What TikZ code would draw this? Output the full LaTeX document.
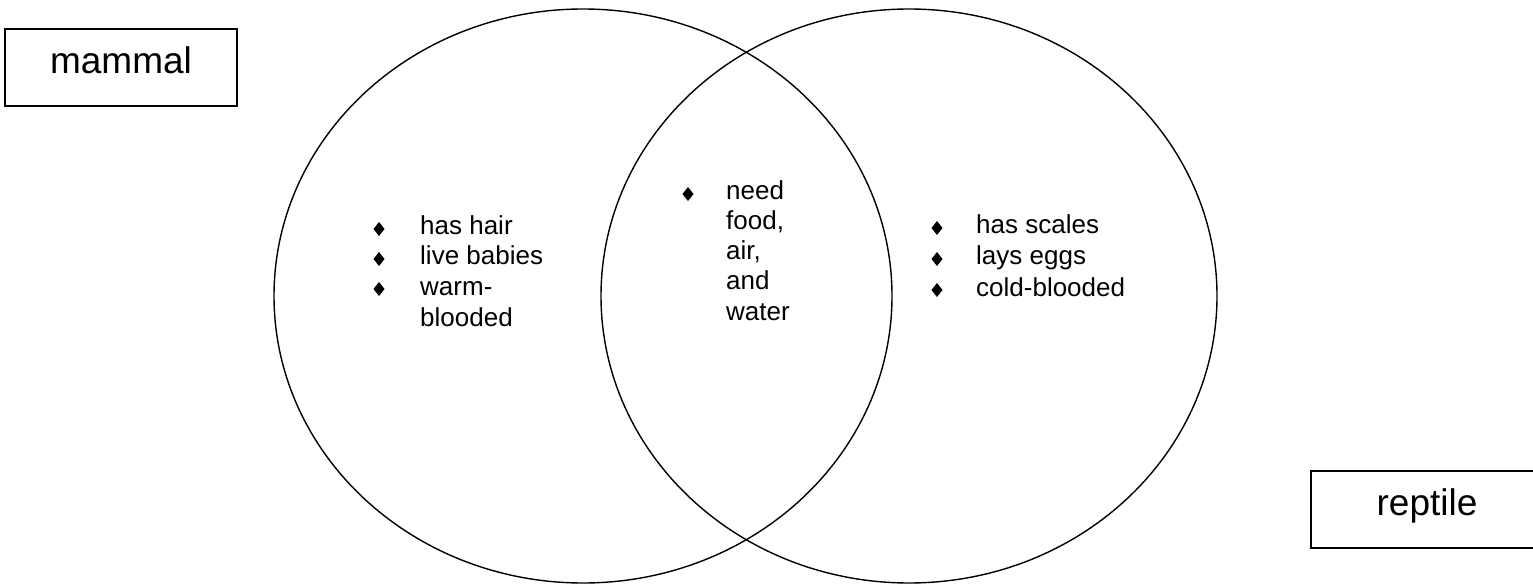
\documentclass[tikz,border=0pt]{standalone}
\usepackage{fontspec}
\setmainfont{Liberation Sans}
\begin{document}
\begin{tikzpicture}[x=1pt,y=-1pt,
  ring/.style={line width=1.4pt},
  tagbox/.style={draw, line width=1.4pt, inner sep=0pt,
    minimum width=232pt, minimum height=77pt,
    font=\fontsize{37}{44}\selectfont},
  item/.style={anchor=base west, inner sep=0pt,
    font=\fontsize{26}{30}\selectfont},
  dot/.style={fill=black}]
\useasboundingbox (0,0) rectangle (1533,585);
\clip (0,0) rectangle (1533,585);
\fill[white] (0,0) rectangle (1533,585);

% the two overlapping sets
\draw[ring] (583,296) ellipse [x radius=309pt, y radius=287pt];
\draw[ring] (909,296) ellipse [x radius=308pt, y radius=287pt];

% set labels
\node[tagbox, text height=27pt, text depth=14pt] (mammal) at (121,67.5) {mammal};
\node[tagbox, text height=27pt, text depth=16pt] (reptile) at (1427,509.5) {reptile};

% bullet centres
\coordinate (m1) at (379,229);
\coordinate (m2) at (379,259);
\coordinate (m3) at (379,289);
\coordinate (s1) at (688,194);
\coordinate (r1) at (937,228);
\coordinate (r2) at (937,259);
\coordinate (r3) at (937,290);

% diamond bullets
\foreach \b in {m1,m2,m3,s1,r1,r2,r3}
  \fill[dot] (\b) +(0,-7) -- +(5.5,0) -- +(0,7) -- +(-5.5,0) -- cycle;

% mammal only
\node[item] (hair) at (420,235) {has hair};
\node[item] (babies) at (420,265) {live babies};
\node[item] (warm) at (420,295) {warm-};
\node[item] (blooded) at (420,326) {blooded};

% shared
\node[item] (need) at (726,200) {need};
\node[item] (food) at (726,230) {food,};
\node[item] (air) at (726,260) {air,};
\node[item] (and) at (726,290) {and};
\node[item] (water) at (726,320) {water};

% reptile only
\node[item] (scales) at (976,234) {has scales};
\node[item] (eggs) at (976,265) {lays eggs};
\node[item] (cold) at (976,296) {cold-blooded};
\end{tikzpicture}
\end{document}
